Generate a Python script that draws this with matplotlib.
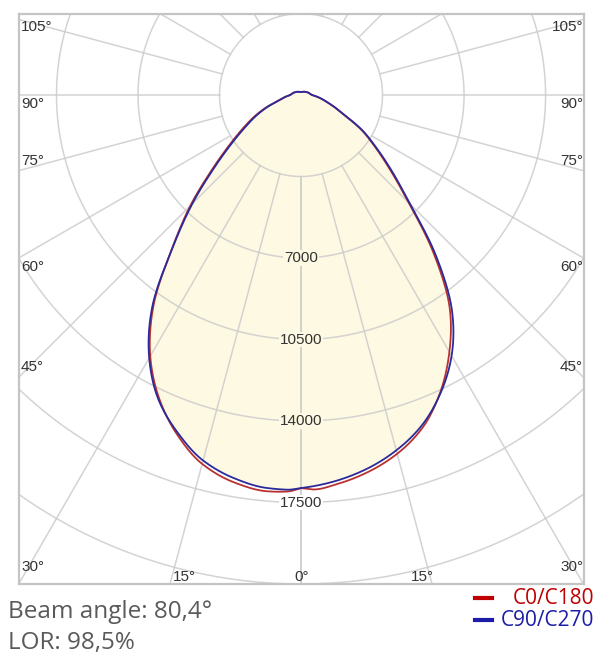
import numpy as np
import matplotlib.pyplot as plt

# gamma angles (deg) and luminous intensity (cd)
gamma = [0, 2, 5, 10, 15, 20, 25, 30, 35, 40, 45, 50, 55, 60, 65, 70, 75, 80, 85, 90,
         105, 120, 135, 150, 165, 180]
c0 = [16880, 16950, 16800, 16450, 15950, 15220, 14120, 12740, 11120, 8850, 6540, 5000, 3880,
      3000, 2070, 1530, 1140, 870, 645, 470, 350, 260, 200, 160, 140, 130]
c180 = [16880, 17040, 17080, 16870, 16400, 15530, 14400, 12950, 11050, 8630, 6720, 5000, 3770,
        2900, 2240, 1640, 1100, 810, 640, 470, 350, 260, 200, 160, 140, 130]
c90 = [16880, 16800, 16650, 16300, 15800, 15120, 14150, 12930, 11300, 9020, 6620, 5100, 3950,
       3050, 2100, 1550, 1150, 880, 650, 470, 350, 260, 200, 160, 140, 130]
c270 = [16880, 16960, 16940, 16700, 16250, 15450, 14460, 13040, 11150, 8600, 6600, 4880, 3650,
        2780, 2150, 1580, 1060, 790, 620, 470, 350, 260, 200, 160, 140, 130]

rings = [3500, 7000, 10500, 14000, 17500, 21000]
ring_labels = [7000, 10500, 14000, 17500]
side_ticks = [105, 90, 75, 60, 45, 30]
bottom_ticks = [15, 0, 15]
beam_angle = '80,4°'
lor = '98,5%'

red = '#b8312f'
blue = '#2a2a9c'
fill_col = '#fdf9e2'
grid_col = '#cccccc'

W, H = 597, 655
fig = plt.figure(figsize=(W / 100, H / 100), dpi=100)
ax = fig.add_axes([19 / W, 1 - 584 / H, 565 / W, 570 / H])
ax.set_xlim(-12110, 12150)
ax.set_ylim(-21000, 3480)
ax.set_xticks([])
ax.set_yticks([])
for s in ax.spines.values():
    s.set_color('#c4c4c4')
    s.set_linewidth(1.6)


def fig_xy(px, py):
    return px / W, 1 - py / H


def pchip(x, y, xn):
    # monotone cubic through the read points, so the outline is drawn smooth
    x = np.asarray(x, float)
    y = np.asarray(y, float)
    h = np.diff(x)
    d = np.diff(y) / h
    m = np.zeros_like(y)
    m[0], m[-1] = d[0], d[-1]
    for k in range(1, len(x) - 1):
        if d[k - 1] * d[k] > 0:
            w1 = 2 * h[k] + h[k - 1]
            w2 = h[k] + 2 * h[k - 1]
            m[k] = (w1 + w2) / (w1 / d[k - 1] + w2 / d[k])
    i = np.clip(np.searchsorted(x, xn, side='right') - 1, 0, len(x) - 2)
    t = (xn - x[i]) / h[i]
    h00 = 2 * t**3 - 3 * t**2 + 1
    h10 = t**3 - 2 * t**2 + t
    h01 = -2 * t**3 + 3 * t**2
    h11 = t**3 - t**2
    return h00 * y[i] + h10 * h[i] * m[i] + h01 * y[i + 1] + h11 * h[i] * m[i + 1]


g = np.linspace(0, 180, 1441)


def outline(right, left):
    rr = pchip(gamma, right, g)
    rl = pchip(gamma, left, g)
    t = np.radians(g)
    x = np.concatenate([-rl[::-1] * np.sin(t[::-1]), rr * np.sin(t)])
    y = np.concatenate([-rl[::-1] * np.cos(t[::-1]), -rr * np.cos(t)])
    return x, y


# fill (inner envelope of both planes)
fx, fy = outline(np.minimum(c0, c90), np.minimum(c180, c270))
ax.fill(fx, fy, color=fill_col, lw=0, zorder=1)

# grid
th = np.linspace(0, 2 * np.pi, 500)
for r in rings:
    ax.plot(r * np.sin(th), r * np.cos(th), color=grid_col, lw=1.1, zorder=2, alpha=0.85)
for a in range(0, 181, 15):
    t = np.radians(a)
    for sgn in (-1, 1):
        ax.plot([sgn * rings[0] * np.sin(t), sgn * 40000 * np.sin(t)],
                [-rings[0] * np.cos(t), -40000 * np.cos(t)],
                color=grid_col, lw=1.1, zorder=2, alpha=0.85)

# curves
x1, y1 = outline(c0, c180)
ax.plot(x1, y1, color=red, lw=1.3, zorder=3)
x2, y2 = outline(c90, c270)
ax.plot(x2, y2, color=blue, lw=1.3, zorder=4)

# intensity labels on the 0 deg axis
for v in ring_labels:
    bg = fill_col if v < min(c0[0], c90[0]) else 'white'
    ax.text(0, -v, str(v), ha='center', va='center', fontsize=11,
            family='Liberation Sans', color='#333333', zorder=5,
            bbox=dict(boxstyle='square,pad=0.05', fc=bg, ec='none'))

# angle labels along the frame
side_y = [27, 104, 161, 267, 367, 567]
for a, py in zip(side_ticks, side_y):
    fig.text(*fig_xy(21, py), f'{a}°', ha='left', va='center', fontsize=11,
             family='Liberation Sans', color='#333333')
    fig.text(*fig_xy(583, py), f'{a}°', ha='right', va='center', fontsize=11,
             family='Liberation Sans', color='#333333')
for a, px in zip(bottom_ticks, [184, 302, 422]):
    fig.text(*fig_xy(px, 577), f'{a}°', ha='center', va='center', fontsize=11,
             family='Liberation Sans', color='#333333')

# footer
fig.text(*fig_xy(8, 618), f'Beam angle: {beam_angle}', ha='left', va='baseline',
         fontsize=17.5, family='Open Sans', color='#5a5a5a')
fig.text(*fig_xy(8, 649), f'LOR: {lor}', ha='left', va='baseline',
         fontsize=17.5, family='Open Sans', color='#5a5a5a')

# legend
for py, col, txt in [(598, '#c00000', 'C0/C180'), (620, '#1c1ca8', 'C90/C270')]:
    x0, y0 = fig_xy(475, py)
    x1_, _ = fig_xy(492, py)
    fig.add_artist(plt.Line2D([x0, x1_], [y0, y0], color=col, lw=3))
    fig.text(*fig_xy(594, py), txt, ha='right', va='center', fontsize=15,
             family='Open Sans', color=col)

plt.savefig('out.png', dpi=100)
